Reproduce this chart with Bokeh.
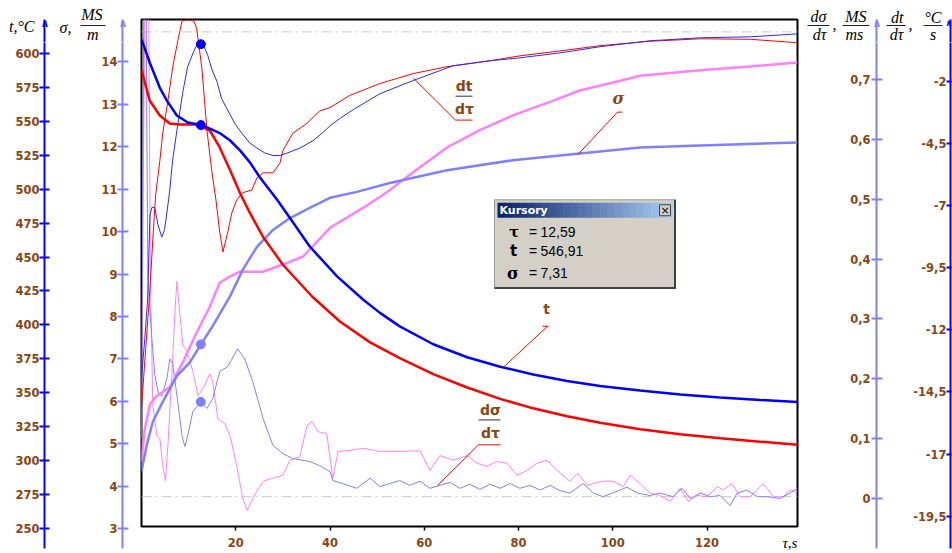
from bokeh.plotting import figure
from bokeh.models import (Range1d, LinearAxis, FixedTicker, CustomJSTickFormatter, Label,
                          BoxAnnotation, Span)
from bokeh.layouts import row, column
from bokeh.embed import file_html
from bokeh.resources import INLINE

# ---------------- data ----------------
x_ticks = [20, 40, 60, 80, 100, 120]
x_unit_tick = 137.6          # where the "τ,s" unit sits on the time axis
t_ticks = [250, 275, 300, 325, 350, 375, 400, 425, 450, 475, 500, 525, 550, 575, 600]
sigma_ticks = [3, 4, 5, 6, 7, 8, 9, 10, 11, 12, 13, 14]
dsigma_ticks = [0, 0.1, 0.2, 0.3, 0.4, 0.5, 0.6, 0.7]
dt_ticks = [-2, -4.5, -7, -9.5, -12, -14.5, -17, -19.5]

tau_range = (0, 139.2)
t_range = (250, 625)
sigma_range = (3, 15)
dsigma_range = (-0.05, 0.8)
dt_range = (-20, 0.5)

cursor_tau = 12.59
cursor_t = 546.91
cursor_sigma = 7.31
cursor_dt = -0.50
cursor_dsigma = 0.159

# temperature t (°C)
t_blue_pts = [(0, 610.5), (1.76, 593.0), (3.89, 574.5), (5.38, 565.0), (7.5, 554.0), (9.83, 548.8),
              (12.59, 546.9), (14.5, 544.3), (16.6, 541.0), (18.8, 535.5), (20.9, 528.2), (23.0, 519.3),
              (25.1, 508.3), (28.7, 492.1), (31.5, 478.2), (35.7, 457.1), (41.5, 435.0), (47.0, 417.9),
              (50.6, 408.0), (54.8, 398.0), (61.9, 384.8), (69.1, 375.2), (76.1, 368.2), (83.1, 362.4),
              (90.3, 357.6), (97.3, 353.9), (105.8, 350.6), (114.3, 347.6), (122.8, 345.4), (131.3, 343.6),
              (139.2, 342.1)]
t_red_pts = [(0, 587.7), (1.76, 564.9), (3.89, 554.0), (6.0, 548.1), (8.1, 547.3), (11.7, 547.3),
             (14.5, 542.9), (16.6, 530.4), (18.8, 513.5), (20.9, 496.6), (23.0, 481.9), (25.8, 464.2),
             (30.0, 443.6), (36.2, 420.1), (42.1, 401.6), (48.5, 386.2), (54.8, 374.5), (61.9, 362.7),
             (69.1, 352.8), (76.1, 344.4), (83.1, 337.4), (90.3, 331.5), (97.3, 326.7), (105.8, 321.9),
             (114.3, 318.2), (122.8, 315.3), (131.3, 312.7), (139.2, 310.5)]

# conductivity sigma (MS/m)
sigma_red_pts = [(0, 4.54), (0.7, 5.31), (1.8, 5.90), (3.25, 6.09), (6.0, 6.30), (8.8, 6.89), (11.7, 7.59),
                 (14.5, 8.20), (16.6, 8.77), (18.8, 8.92), (20.9, 9.03), (25.8, 9.03), (30.0, 9.20),
                 (34.3, 9.39), (40.0, 10.07), (47.0, 10.54), (52.7, 10.96), (54.8, 11.15), (64.8, 11.97),
                 (71.8, 12.38), (78.8, 12.73), (87.4, 13.08), (93.0, 13.32), (100.1, 13.51), (105.8, 13.67),
                 (118.6, 13.80), (129.2, 13.89), (139.2, 13.98)]
sigma_blue_pts = [(0, 4.31), (1.1, 4.92), (2.4, 5.48), (4.5, 5.95), (7.5, 6.56), (10.3, 6.89), (12.59, 7.31),
                  (15.1, 7.74), (18.8, 8.45), (21.5, 9.08), (24.5, 9.62), (27.9, 10.02), (31.5, 10.30),
                  (35.7, 10.54), (40.0, 10.78), (45.7, 10.92), (52.7, 11.13), (64.8, 11.43), (78.8, 11.67),
                  (93.0, 11.83), (105.8, 11.97), (118.6, 12.02), (139.2, 12.09)]

# dt/dtau (°C/s)
dt_red_pts = [(0, -15.2), (0.9, -12.8), (1.8, -10.4), (2.4, -8.4), (3.0, -6.6), (3.9, -5.2), (4.5, -4.1),
              (5.6, -2.8), (6.6, -1.45), (7.7, -0.36), (8.6, 0.44), (9.4, 0.48), (10.3, 0.48), (11.1, 0.44),
              (11.7, 0.15), (12.8, -1.45), (13.9, -4.0), (14.9, -5.6), (15.8, -6.8), (16.6, -8.1), (17.3, -8.9),
              (18.3, -8.1), (19.2, -7.3), (20.2, -6.8), (21.5, -6.5), (23.4, -6.4), (24.5, -5.9), (25.8, -5.7),
              (27.9, -5.7), (29.4, -5.3), (30.0, -4.8), (32.1, -4.1), (35.1, -3.7), (37.8, -3.2), (40.0, -3.06),
              (44.2, -2.57), (50.6, -2.09), (57.6, -1.69), (64.8, -1.41), (73.9, -1.17), (80.3, -0.97),
              (88.8, -0.77), (97.3, -0.56), (107.9, -0.38), (118.6, -0.28), (129.2, -0.30), (139.2, -0.44)]
dt_blue_pts = [(0, -14.0), (0.7, -12.4), (1.3, -10.8), (1.8, -7.4), (2.2, -7.1), (2.8, -7.1), (3.5, -7.8),
               (4.3, -8.3), (4.9, -8.0), (5.6, -7.0), (6.0, -6.4), (6.6, -5.2), (7.5, -4.0), (8.8, -2.4),
               (9.8, -1.4), (10.7, -0.97), (11.5, -0.61), (12.59, -0.50), (13.2, -0.56), (14.1, -0.97),
               (14.9, -1.5), (16.0, -2.0), (17.0, -2.7), (18.1, -3.1), (19.8, -3.7), (20.9, -4.0), (23.0, -4.5),
               (24.5, -4.7), (26.2, -4.9), (27.9, -5.0), (29.4, -5.0), (30.9, -4.9), (33.6, -4.7), (36.4, -4.4),
               (38.3, -4.1), (40.0, -3.8), (42.1, -3.5), (45.3, -3.1), (50.6, -2.5), (57.6, -1.97), (63.3, -1.57),
               (66.1, -1.37), (73.9, -1.17), (80.3, -1.05), (88.8, -0.85), (97.3, -0.60), (107.9, -0.36),
               (118.6, -0.24), (129.2, -0.20), (139.2, -0.08)]

# dsigma/dtau (MS/ms)
dsig_red_pts = [(0, 0.10), (0.4, 0.55), (0.75, 0.85), (1.2, 0.85), (1.55, 0.80), (1.9, 0.365), (2.4, 0.153),
                (3.25, 0.103), (3.9, 0.097), (4.5, 0.052), (5.1, 0.027), (5.6, 0.086), (6.4, 0.198), (7.1, 0.310),
                (7.5, 0.361), (8.1, 0.310), (8.8, 0.253), (9.6, 0.245), (10.9, 0.210), (12.0, 0.169),
                (13.4, 0.186), (14.5, 0.206), (15.1, 0.193), (16.2, 0.131), (17.7, 0.122), (18.8, 0.102),
                (20.2, 0.052), (21.5, -0.003), (22.4, -0.023), (23.6, -0.003), (25.8, 0.026), (27.9, 0.031),
                (30.0, 0.036), (31.5, 0.061), (33.6, 0.067), (35.1, 0.119), (36.2, 0.126), (37.4, 0.109),
                (39.3, 0.106), (40.6, 0.031), (41.7, 0.076), (43.6, 0.077), (47.0, 0.081), (50.6, 0.076),
                (54.8, 0.076), (59.1, 0.077), (61.2, 0.044), (63.3, 0.069), (66.1, 0.061), (69.1, 0.069),
                (71.2, 0.056), (73.3, 0.051), (75.4, 0.059), (77.6, 0.056), (79.7, 0.036), (81.8, 0.044),
                (83.9, 0.056), (86.1, 0.061), (88.2, 0.044), (90.9, 0.026), (92.6, 0.039), (94.6, 0.019),
                (95.9, 0.022), (97.9, 0.026), (100.1, 0.026), (102.2, 0.017), (103.7, 0.036), (105.8, 0.022),
                (107.9, 0.006), (110.0, 0.002), (112.2, -0.008), (114.3, 0.014), (116.0, -0.008), (117.9, 0.002),
                (120.1, 0.0), (122.2, 0.017), (123.4, 0.011), (125.3, 0.022), (127.0, 0.0), (129.2, 0.0),
                (131.9, 0.022), (134.1, 0.0), (136.2, 0.0), (137.6, 0.011), (139.2, 0.009)]
dsig_blue_pts = [(0, 0.05), (0.25, 0.5), (0.55, 0.9), (0.95, 0.9), (1.15, 0.6), (1.35, 0.365), (2.2, 0.265),
                 (2.8, 0.206), (3.5, 0.176), (4.3, 0.168), (5.4, 0.198), (6.0, 0.231), (6.6, 0.223), (7.7, 0.159),
                 (8.6, 0.102), (9.2, 0.084), (9.8, 0.102), (10.9, 0.143), (12.59, 0.159), (13.9, 0.148),
                 (15.1, 0.164), (16.6, 0.210), (18.3, 0.218), (20.4, 0.248), (21.9, 0.231), (23.6, 0.193),
                 (25.8, 0.131), (27.9, 0.086), (30.0, 0.072), (32.1, 0.064), (35.7, 0.059), (37.8, 0.052),
                 (40.0, 0.042), (40.6, 0.027), (42.7, 0.022), (45.7, 0.014), (48.5, 0.031), (50.6, 0.017),
                 (54.8, 0.027), (56.9, 0.019), (59.1, 0.026), (61.2, 0.014), (63.3, 0.019), (65.5, 0.024),
                 (67.6, 0.014), (69.7, 0.021), (71.8, 0.012), (73.9, 0.021), (76.1, 0.014), (78.2, 0.022),
                 (80.3, 0.014), (82.4, 0.019), (84.6, 0.011), (86.7, 0.019), (88.8, 0.010), (90.9, 0.006),
                 (93.7, 0.022), (95.9, 0.006), (97.9, 0.0), (100.9, 0.009), (103.0, 0.016), (105.2, 0.006),
                 (107.9, 0.002), (110.0, 0.006), (112.8, 0.0), (114.7, 0.014), (116.5, -0.003), (118.6, 0.006),
                 (120.7, 0.0), (122.8, 0.002), (124.9, -0.015), (126.4, 0.006), (128.5, 0.011), (130.7, 0.0),
                 (132.8, 0.0), (135.5, -0.003), (138.3, 0.009), (139.2, 0.014)]


def xs(pts):
    return [a for a, _ in pts]


def ys(pts):
    return [b for _, b in pts]


# ---------------- layout constants (page pixels) ----------------
BROWN = "#8B4513"
BLUE = "#0000FF"
LBLUE = "#8080FF"
RED = "#FF0000"
PINK = "#FF80FF"
H = 553
TITLE_H = 42          # height of the title strip above each axis
M_TOP = 19            # main frame top
M_FH = 509            # main frame height
STRIP_BOTTOM = 548    # where the axis lines end
LBL_FONT = "DejaVu Sans"
LBL_SIZE = "11.5px"
SERIF = "Liberation Serif"
NB = "\u00a0"

fmt_comma = CustomJSTickFormatter(code="return String(Math.round(tick*10)/10).replace('.', ',');")


def val_at(rng, py):
    lo, hi = rng
    return hi - (py - M_TOP) / M_FH * (hi - lo)


def plain(fig):
    fig.outline_line_color = None
    fig.grid.visible = False
    fig.background_fill_color = "white"
    fig.border_fill_color = "white"


def bare_axis(ax):
    ax.axis_line_color = None
    ax.major_tick_line_color = None
    ax.major_tick_in = 0
    ax.major_tick_out = 0
    ax.minor_tick_line_color = None
    ax.minor_tick_in = 0
    ax.minor_tick_out = 0


def make_strip(width, axis_px, rng, ticks, color, tin, tout, standoff, fmt=None):
    top_v = val_at(rng, TITLE_H)
    bot_v = val_at(rng, STRIP_BOTTOM)
    s = figure(width=width, height=H - TITLE_H, x_range=Range1d(0, 1), y_range=Range1d(bot_v, top_v),
               output_backend="svg", toolbar_location=None,
               x_axis_location=None, y_axis_location=None,
               min_border_left=axis_px, min_border_right=0, min_border_top=0,
               min_border_bottom=H - STRIP_BOTTOM)
    plain(s)
    ax = LinearAxis(ticker=FixedTicker(ticks=ticks))
    if fmt is not None:
        ax.formatter = fmt
    ax.axis_line_color = color
    ax.axis_line_width = 2
    ax.major_tick_line_color = color
    ax.major_tick_line_width = 2
    ax.major_tick_in = tin
    ax.major_tick_out = tout
    ax.minor_tick_line_color = None
    ax.major_label_standoff = standoff
    ax.major_label_text_color = BROWN
    ax.major_label_text_font = LBL_FONT
    ax.major_label_text_font_style = "bold"
    ax.major_label_text_font_size = LBL_SIZE
    s.add_layout(ax, "left")
    return s


def make_title(width, color, spacer="", head_standoff=-5, head_size="11px"):
    """Title strip above an axis: its left-panel axes carry the top of the axis line,
    the arrow head and the (fraction) title texts."""
    f = figure(width=width, height=TITLE_H, x_range=Range1d(0, 1), y_range=Range1d(TITLE_H, 0),
               output_backend="svg", toolbar_location=None,
               x_axis_location=None, y_axis_location=None,
               min_border_left=0, min_border_right=0, min_border_top=0, min_border_bottom=0)
    plain(f)
    # top part of the axis line
    ln = LinearAxis(ticker=FixedTicker(ticks=[]), bounds=(M_TOP, TITLE_H))
    bare_axis(ln)
    ln.axis_line_color = color
    ln.axis_line_width = 2
    f.add_layout(ln, "left")
    # arrow head (+ invisible spacer that sets the distance to the title)
    items = {22.5: "∧"}
    if spacer:
        items[40] = spacer
    ah = LinearAxis(ticker=FixedTicker(ticks=sorted(items)), major_label_overrides=items)
    bare_axis(ah)
    ah.major_label_standoff = head_standoff
    ah.major_label_text_color = color
    ah.major_label_text_font = LBL_FONT
    ah.major_label_text_font_style = "bold"
    ah.major_label_text_font_size = head_size
    f.add_layout(ah, "left")
    return f


def title_part(f, items, standoff, bar=None):
    """items: {y: text}; bar: (y, length) fraction bar drawn as a minor tick."""
    tk = FixedTicker(ticks=sorted(items), minor_ticks=[bar[0]] if bar else [])
    ax = LinearAxis(ticker=tk, major_label_overrides=items)
    bare_axis(ax)
    if bar:
        ax.minor_tick_line_color = "#202020"
        ax.minor_tick_line_width = 1
        ax.minor_tick_out = bar[1]
    ax.major_label_standoff = standoff
    ax.major_label_text_color = "black"
    ax.major_label_text_font = SERIF
    ax.major_label_text_font_style = "italic"
    ax.major_label_text_font_size = "16px"
    f.add_layout(ax, "left")


# columns: t 0..56 | sigma 56..139 | main 139..801 | dsigma 801..886 | dt 886..952
ttl_t = make_title(56, BLUE)
title_part(ttl_t, {26: "t,°C"}, 3)
str_t = make_strip(56, 44, t_range, t_ticks, BLUE, 5, 5, 0)

ttl_s = make_title(83, LBLUE, spacer=NB * 5)
title_part(ttl_s, {14: "MS", 36.5: "m" + NB}, -22, bar=(25, 25))
title_part(ttl_s, {27: "σ,"}, 7)
str_s = make_strip(83, 64, sigma_range, sigma_ticks, LBLUE, 6, 5, 0)

ttl_ds = make_title(85, LBLUE)
title_part(ttl_ds, {15.5: "MS", 36.5: "ms\u2009"}, -24, bar=(24.5, 27))
title_part(ttl_ds, {24: ","}, 6)
title_part(ttl_ds, {15.5: "dσ", 35.5: "dτ"}, -19, bar=(24.5, 22))
str_ds = make_strip(85, 75, dsigma_range, dsigma_ticks, LBLUE, 6, 5, 1, fmt_comma)

ttl_dt = make_title(66, BLUE, head_standoff=-2, head_size="9px")
title_part(ttl_dt, {17: "°C", 39: "s" + NB + "\u200a"}, -18, bar=(25, 19))
title_part(ttl_dt, {24: ","}, 9)
title_part(ttl_dt, {17: "dt", 37: "dτ"}, -17, bar=(25, 19))
str_dt = make_strip(66, 60, dt_range, dt_ticks, BLUE, 1, 4, 0, fmt_comma)

# ---------------- main plot ----------------
p = figure(width=662, height=H, x_range=Range1d(*tau_range), y_range=Range1d(*t_range),
           output_backend="svg", toolbar_location=None, y_axis_location=None,
           min_border_left=2, min_border_right=4, min_border_top=M_TOP,
           min_border_bottom=H - M_TOP - M_FH)
p.extra_y_ranges = {"sigma": Range1d(*sigma_range), "dsig": Range1d(*dsigma_range), "dt": Range1d(*dt_range)}
p.outline_line_color = "black"
p.outline_line_width = 2
p.outline_line_alpha = 1
p.grid.visible = False
p.background_fill_color = "white"
p.border_fill_color = "white"
xa = p.xaxis[0]
xa.ticker = FixedTicker(ticks=x_ticks)
xa.axis_line_color = None
xa.major_tick_line_color = "black"
xa.major_tick_line_width = 1.5
xa.major_tick_in = 0
xa.major_tick_out = 4
xa.minor_tick_line_color = None
xa.major_label_standoff = 7
xa.major_label_text_color = BROWN
xa.major_label_text_font = LBL_FONT
xa.major_label_text_font_style = "bold"
xa.major_label_text_font_size = LBL_SIZE
# unit of the time axis, pulled back up next to the tick labels
xu = LinearAxis(ticker=FixedTicker(ticks=[x_unit_tick]), major_label_overrides={x_unit_tick: "τ,s"})
bare_axis(xu)
xu.major_label_standoff = -15
xu.major_label_text_color = "black"
xu.major_label_text_font = SERIF
xu.major_label_text_font_style = "italic"
xu.major_label_text_font_size = "15px"
p.add_layout(xu, "below")

# zero reference lines
p.add_layout(Span(location=0, dimension="width", y_range_name="dt", line_color="#C8C8C8",
                  line_width=1, line_dash="10 4 2 4", level="underlay"))
p.add_layout(Span(location=0, dimension="width", y_range_name="dsig", line_color="#C8C8C8",
                  line_width=1, line_dash="10 4 2 4", level="underlay"))

# thin derivative curves
p.line(xs(dsig_red_pts), ys(dsig_red_pts), y_range_name="dsig", line_color=PINK, line_width=1)
p.line(xs(dsig_blue_pts), ys(dsig_blue_pts), y_range_name="dsig", line_color=LBLUE, line_width=1)
p.line(xs(dt_red_pts), ys(dt_red_pts), y_range_name="dt", line_color=RED, line_width=1)
p.line(xs(dt_blue_pts), ys(dt_blue_pts), y_range_name="dt", line_color="#2A2AFF", line_width=1)
# thick curves
p.line(xs(sigma_red_pts), ys(sigma_red_pts), y_range_name="sigma", line_color=PINK, line_width=2.5)
p.line(xs(sigma_blue_pts), ys(sigma_blue_pts), y_range_name="sigma", line_color=LBLUE, line_width=2.5)
p.line(xs(t_red_pts), ys(t_red_pts), line_color=RED, line_width=2.5)
p.line(xs(t_blue_pts), ys(t_blue_pts), line_color=BLUE, line_width=2.5)

# cursor points
p.scatter([cursor_tau], [cursor_t], size=9, fill_color=BLUE, line_color=BLUE)
p.scatter([cursor_tau], [cursor_dt], y_range_name="dt", size=9, fill_color=BLUE, line_color=BLUE)
p.scatter([cursor_tau], [cursor_sigma], y_range_name="sigma", size=9, fill_color=LBLUE, line_color=LBLUE)
p.scatter([cursor_tau], [cursor_dsigma], y_range_name="dsig", size=9, fill_color=LBLUE, line_color=LBLUE)


# helpers for placing annotations (page pixels -> data coords of the main plot)
def rx(px):
    return (px - 141.0) / 656.0 * tau_range[1]


def ry(py):
    return val_at(t_range, py)


def m_text(px, py, text, size="14px", style="bold", font=LBL_FONT, color=BROWN, align="center"):
    p.add_layout(Label(x=rx(px), y=ry(py), text=text, text_align=align, text_baseline="middle",
                       text_font=font, text_font_size=size, text_font_style=style, text_color=color))


def m_line(pts, color=RED, width=1):
    p.line([rx(a) for a, _ in pts], [ry(b) for _, b in pts], line_color=color, line_width=width)


# series labels with leader lines
m_line([(413, 78), (455, 120), (472, 120)])
m_text(463.5, 86, "dt")
m_line([(455, 96), (472, 96)], color="#303030")
m_text(464, 109, "dτ")

m_line([(577, 155), (617, 112), (622, 112)])
m_text(618, 98, "σ", size="16px", style="bold italic", font="DejaVu Serif")

m_line([(503, 368), (547, 327)])
m_line([(542, 327), (548, 327)])
m_text(546, 310, "t")

m_line([(437, 487), (478, 446), (500, 446)])
m_text(490, 411, "dσ")
m_line([(478, 421), (500, 421)], color="#303030")
m_text(490, 434, "dτ")

# "Kursory" cursor window
p.add_layout(BoxAnnotation(left=rx(494), right=rx(675), top=ry(200), bottom=ry(289),
                           fill_color="#D4D0C8", fill_alpha=1, line_color="#9A9A9A", line_alpha=1,
                           line_width=1))
p.add_layout(BoxAnnotation(left=rx(673.5), right=rx(675.5), top=ry(200), bottom=ry(289.5),
                           fill_color="#404040", fill_alpha=1, line_color=None))
p.add_layout(BoxAnnotation(left=rx(494), right=rx(675.5), top=ry(287.5), bottom=ry(289.5),
                           fill_color="#404040", fill_alpha=1, line_color=None))
N = 24
c0, c1 = (10, 36, 106), (166, 202, 240)
bx0, bx1 = 497.0, 672.0
for i in range(N):
    f = i / (N - 1)
    col = "#%02x%02x%02x" % tuple(int(round(c0[k] + (c1[k] - c0[k]) * f)) for k in range(3))
    l = bx0 + (bx1 - bx0) * i / N
    r = bx0 + (bx1 - bx0) * (i + 1) / N + 0.6
    p.add_layout(BoxAnnotation(left=rx(l), right=rx(min(r, bx1)), top=ry(203), bottom=ry(218),
                               fill_color=col, fill_alpha=1, line_color=None))
m_text(499, 211, "Kursory", size="11px", color="white", align="left")
p.add_layout(BoxAnnotation(left=rx(659), right=rx(670), top=ry(205), bottom=ry(216),
                           fill_color="#D4D0C8", fill_alpha=1, line_color="#404040", line_alpha=1,
                           line_width=1))
m_text(664.5, 210.5, "×", size="11px", style="normal", color="black")


def fmt(v):
    return ("%.2f" % v).replace(".", ",")


rows_y = [232, 251, 274]
m_text(513.5, rows_y[0], "τ", size="15px", style="bold", font="DejaVu Serif", color="black")
m_text(513, rows_y[1], "t", size="15px", style="bold", font="DejaVu Sans", color="black")
m_text(512.5, rows_y[2], "σ", size="16px", style="bold", font="DejaVu Serif", color="black")
for yy, v in zip(rows_y, [cursor_tau, cursor_t, cursor_sigma]):
    m_text(532.5, yy, "=", size="14px", style="normal", font="Liberation Sans", color="black")
    m_text(540, yy, fmt(v), size="14px", style="normal", font="Liberation Sans", color="black", align="left")

layout = row(column(ttl_t, str_t), column(ttl_s, str_s), p, column(ttl_ds, str_ds), column(ttl_dt, str_dt))
open("out.html", "w").write(file_html(layout, INLINE))
